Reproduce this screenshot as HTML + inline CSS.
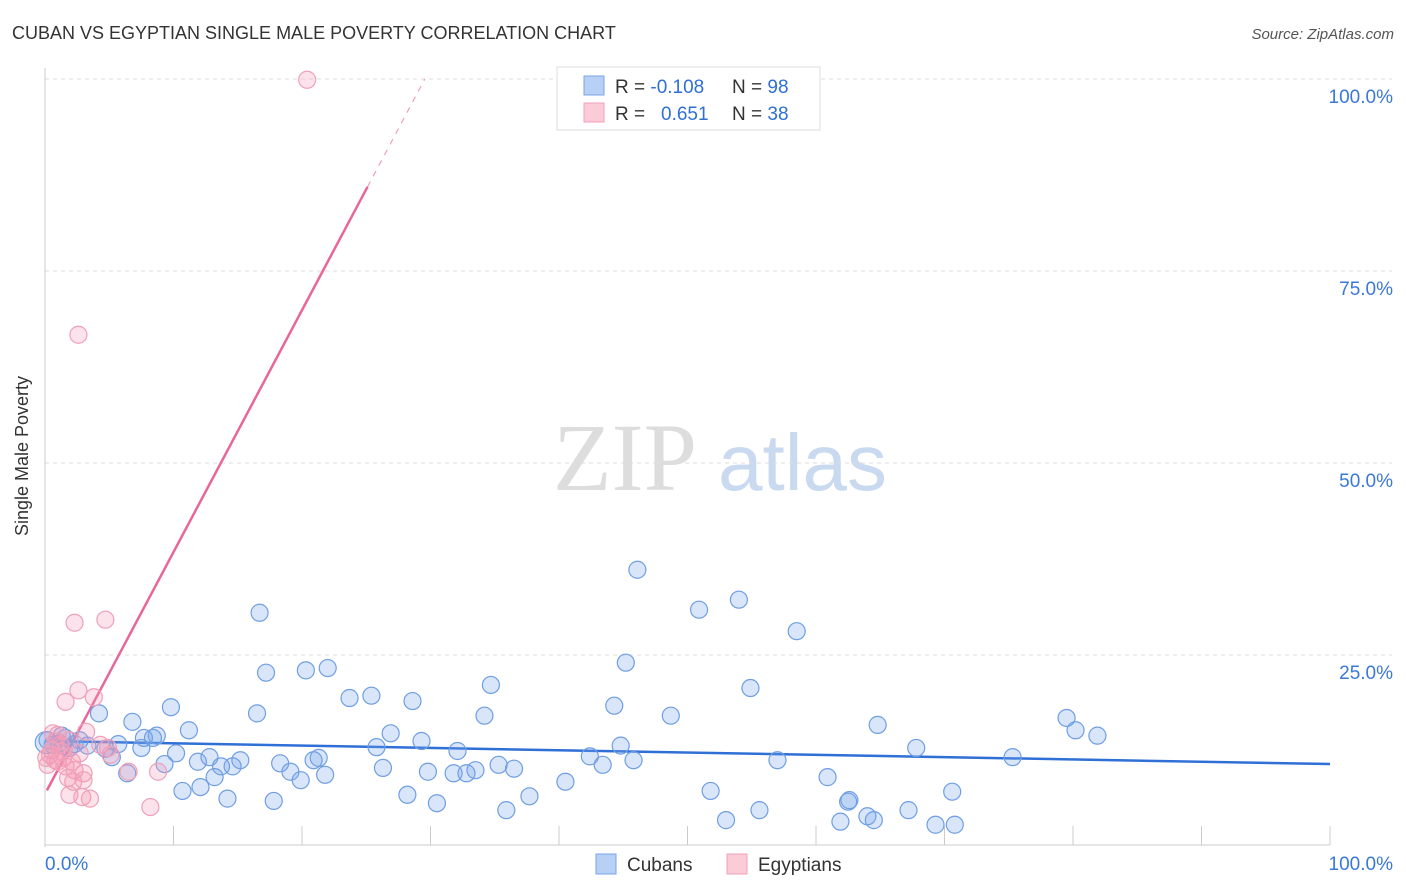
<!DOCTYPE html>
<html><head><meta charset="utf-8"><style>
body{margin:0;background:#fff;font-family:"Liberation Sans",sans-serif}
svg{display:block}
</style></head><body>
<svg id="chart" width="1406" height="892" viewBox="0 0 1406 892">
<text x="12" y="39" font-size="18" fill="#333">CUBAN VS EGYPTIAN SINGLE MALE POVERTY CORRELATION CHART</text>
<text x="1394" y="39" font-size="15" font-style="italic" fill="#555" text-anchor="end">Source: ZipAtlas.com</text>
<g>
<text x="553" y="490" font-family="Liberation Serif,serif" font-size="96" fill="#ddd">ZIP</text>
<text x="718" y="490" font-size="80" fill="#c9d9f0">atlas</text>
</g>
<g id="grid"></g>
<g id="axes"></g>
<g id="lines"></g>
<g id="points"></g>
<text x="28" y="456" font-size="18" fill="#333" text-anchor="middle" transform="rotate(-90 28 456)">Single Male Poverty</text>
<g>
<rect x="557" y="67" width="263" height="63" fill="#fff" stroke="#ddd"/>
<rect x="584" y="76" width="20" height="19" fill="#b8d0f5" stroke="#7aa5e6"/>
<rect x="584" y="103" width="20" height="19" fill="#fbcbd8" stroke="#f0a0b8"/>
<text x="615" y="93" font-size="19" fill="#333">R = <tspan fill="#2f6fd6">-0.108</tspan></text>
<text x="732" y="93" font-size="19" fill="#333">N = <tspan fill="#2f6fd6">98</tspan></text>
<text x="615" y="120" font-size="19" fill="#333">R = <tspan fill="#2f6fd6" x="661">0.651</tspan></text>
<text x="732" y="120" font-size="19" fill="#333">N = <tspan fill="#2f6fd6">38</tspan></text>
</g>
<g>
<rect x="596" y="854" width="20" height="20" fill="#b8d0f5" stroke="#7aa5e6"/>
<text x="627" y="871" font-size="19" fill="#333">Cubans</text>
<rect x="727" y="854" width="20" height="20" fill="#fbcbd8" stroke="#f0a0b8"/>
<text x="758" y="871" font-size="19" fill="#333">Egyptians</text>
</g>
</svg>
<script>
const yTicks=[25,50,75,100];
const yTickLabels=["25.0%","50.0%","75.0%","100.0%"];
const xTickCount=10;
const cubanX=[46.1,54.0,50.9,58.5,16.7,45.2,17.2,20.3,22.0,34.7,54.9,23.7,25.4,28.6,44.3,9.8,16.5,34.2,48.7,4.2,6.8,11.2,79.5,80.2,81.9,64.8,67.8,75.3,26.9,29.3,25.8,32.1,42.4,44.8,43.4,45.8,35.3,36.5,33.5,31.8,32.8,29.8,26.3,21.3,20.9,18.3,19.1,21.8,19.9,15.2,12.8,11.9,14.6,13.7,13.2,10.2,9.3,7.5,7.7,8.7,8.4,5.7,5.2,4.7,6.4,3.3,2.3,1.6,1.1,0.6,0.2,1.3,1.9,2.7,40.5,37.7,28.2,30.5,35.9,10.7,12.1,14.2,17.8,51.8,60.9,57.0,62.6,62.5,70.6,67.2,55.6,53.0,64.0,64.5,61.9,69.3,70.8,0.1];
const cubanY=[36.1,32.2,30.9,28.1,30.5,24.0,22.7,23.0,23.3,21.1,20.7,19.4,19.7,19.0,18.4,18.2,17.4,17.1,17.1,17.4,16.3,15.2,16.8,15.2,14.5,15.9,12.9,11.7,14.8,13.8,13.0,12.5,11.8,13.2,10.7,11.3,10.7,10.2,10.0,9.6,9.6,9.8,10.3,11.6,11.3,10.9,9.8,9.4,8.7,11.3,11.7,11.1,10.5,10.5,9.1,12.2,10.8,12.9,14.2,14.5,14.2,13.4,11.7,12.8,9.6,13.2,13.4,14.2,13.5,13.3,13.9,14.5,12.9,13.9,8.5,6.6,6.8,5.7,4.8,7.3,7.8,6.3,6.0,7.3,9.1,11.3,6.1,5.9,7.2,4.8,4.8,3.5,4.0,3.5,3.3,2.9,2.9,13.6];
const egyX=[20.4,2.6,4.7,2.3,2.6,3.8,1.6,3.2,0.8,1.2,0.5,0.4,0.8,1.0,1.6,2.3,3.0,1.3,1.9,4.3,5.1,0.2,1.8,2.2,3.0,1.9,2.9,3.5,6.5,8.8,8.2,4.9,1.0,1.4,2.1,2.7,0.6,0.1];
const egyY=[99.9,66.7,29.6,29.2,20.4,19.5,18.9,15.0,13.7,13.3,12.6,12.0,11.3,11.1,10.5,10.0,9.6,12.4,13.9,13.3,12.0,10.7,9.0,8.5,8.7,6.8,6.5,6.3,9.8,9.8,5.2,12.9,14.6,11.6,11.1,12.2,14.8,11.6];
const cubanFit=[13.8,10.8];
const egyFit=[6.9,3.15];
const NS="http://www.w3.org/2000/svg";
const X0=45,X1=1330,Y0=847,Y100=79;
function sx(v){return X0+(X1-X0)*v/100;}
function sy(v){return Y0-(Y0-Y100)*v/100;}
function mk(tag,attrs,parent){const e=document.createElementNS(NS,tag);for(const k in attrs)e.setAttribute(k,attrs[k]);parent.appendChild(e);return e;}
const grid=document.getElementById('grid'),axes=document.getElementById('axes'),lines=document.getElementById('lines'),pts=document.getElementById('points');
yTicks.forEach((t,i)=>{
 const l=mk('line',{x1:X0,x2:1392,y1:sy(t),y2:sy(t),stroke:'#ddd','stroke-dasharray':'4,4'},grid);
 
 
 const tx=mk('text',{x:1393,y:sy(t)+24,'font-size':19,fill:'#3a78d8','text-anchor':'end'},axes);
 tx.textContent=yTickLabels[i];
 
 
});
const ax=mk('line',{x1:X0,x2:X0,y1:68,y2:Y0,stroke:'#ccc'},axes);


const bx=mk('line',{x1:X0,x2:X1,y1:Y0-2,y2:Y0-2,stroke:'#ccc'},axes);


for(let i=0;i<=xTickCount;i++){
 const xv=sx(i*100/xTickCount);
 const t=mk('line',{x1:xv,x2:xv,y1:826,y2:Y0-2,stroke:'#ccc'},axes);
 
 
}
const xl=mk('text',{x:45,y:870,'font-size':19,fill:'#3a78d8'},axes);xl.textContent='0.0%';


const xr=mk('text',{x:1393,y:870,'font-size':19,fill:'#3a78d8','text-anchor':'end'},axes);xr.textContent='100.0%';


cubanX.forEach((v,i)=>{
 const c=mk('circle',{cx:sx(v),cy:sy(cubanY[i]),r:i===cubanX.length-1?11:8.5,fill:'rgba(120,165,235,0.28)',stroke:'#6f9ee3','stroke-width':1.2},pts);
 
 
});
egyX.forEach((v,i)=>{
 const c=mk('circle',{cx:sx(v),cy:sy(egyY[i]),r:8.5,fill:'rgba(245,150,180,0.28)',stroke:'#f0a0b8','stroke-width':1.2},pts);
 
 
});
const bl=mk('line',{x1:sx(0),y1:sy(cubanFit[0]),x2:sx(100),y2:sy(cubanFit[1]),stroke:'#2f6fd6','stroke-width':2.5},lines);


const xEnd=25.1,xDash=(100-egyFit[0])/egyFit[1];
const pl=mk('line',{x1:sx(0.15),y1:sy(egyFit[0]+egyFit[1]*0.15),x2:sx(xEnd),y2:sy(egyFit[0]+egyFit[1]*xEnd),stroke:'#e8669a','stroke-width':2.5},lines);


const pd=mk('line',{x1:sx(xEnd),y1:sy(egyFit[0]+egyFit[1]*xEnd),x2:sx(xDash),y2:sy(100),stroke:'#f0a0b8','stroke-width':1.2,'stroke-dasharray':'6,6'},lines);


</script>
</body></html>
